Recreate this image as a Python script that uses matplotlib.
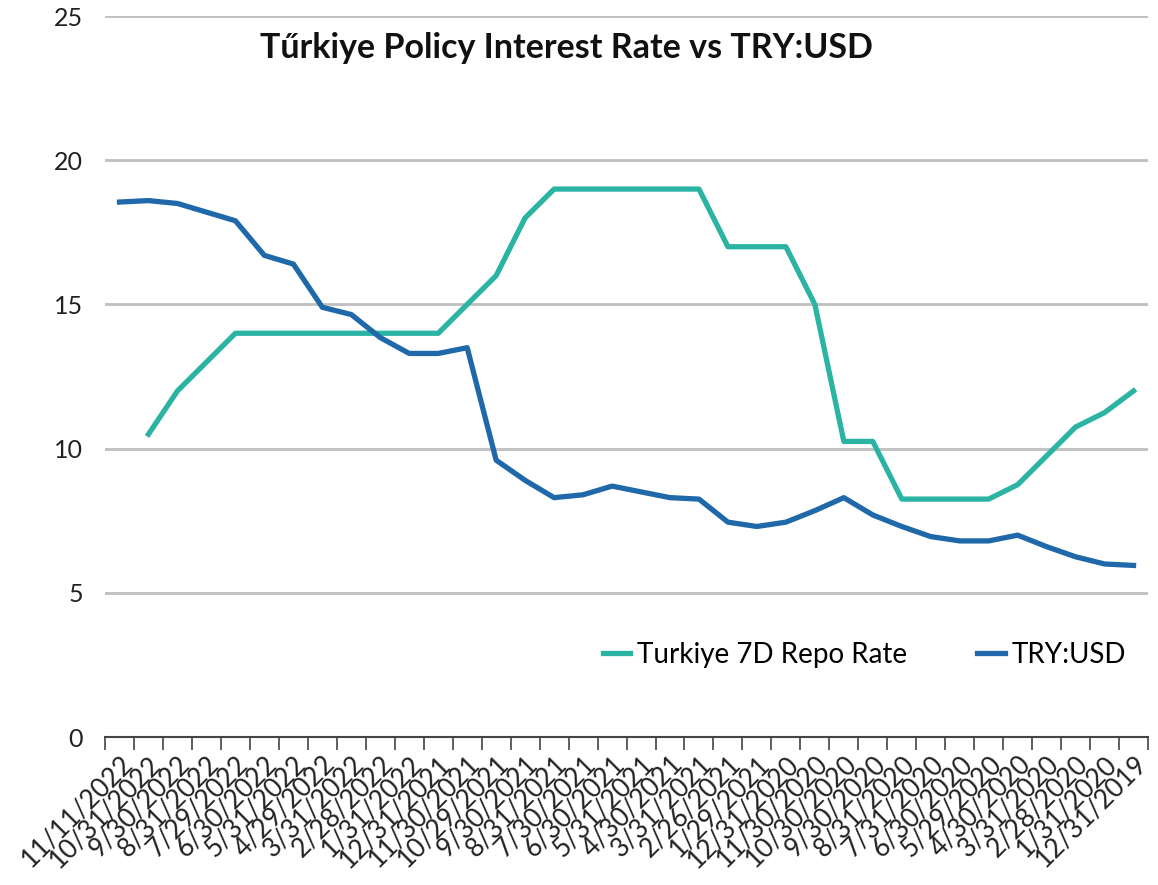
import matplotlib.pyplot as plt
import numpy as np

plt.rcParams['font.family'] = ['Lato', 'DejaVu Sans']

# monthly observations, newest first (as in the source sheet)
dates = ['11/11/2022', '10/31/2022', '9/30/2022', '8/31/2022', '7/29/2022', '6/30/2022',
         '5/31/2022', '4/29/2022', '3/31/2022', '2/28/2022', '1/31/2022', '12/31/2021',
         '11/30/2021', '10/29/2021', '9/30/2021', '8/31/2021', '7/30/2021', '6/30/2021',
         '5/31/2021', '4/30/2021', '3/31/2021', '2/26/2021', '1/29/2021', '12/31/2020',
         '11/30/2020', '10/30/2020', '9/30/2020', '8/31/2020', '7/31/2020', '6/30/2020',
         '5/29/2020', '4/30/2020', '3/31/2020', '2/28/2020', '1/31/2020', '12/31/2019']

repo_rate = [np.nan, 10.5, 12.0, 13.0, 14.0, 14.0, 14.0, 14.0, 14.0, 14.0, 14.0, 14.0,
             15.0, 16.0, 18.0, 19.0, 19.0, 19.0, 19.0, 19.0, 19.0, 17.0, 17.0, 17.0,
             15.0, 10.25, 10.25, 8.25, 8.25, 8.25, 8.25, 8.75, 9.75, 10.75, 11.25, 12.0]

try_usd = [18.55, 18.6, 18.5, 18.2, 17.9, 16.7, 16.4, 14.9, 14.65, 13.85, 13.3, 13.3,
           13.5, 9.6, 8.9, 8.3, 8.4, 8.7, 8.5, 8.3, 8.25, 7.45, 7.3, 7.45,
           7.85, 8.3, 7.7, 7.3, 6.95, 6.8, 6.8, 7.0, 6.6, 6.25, 6.0, 5.95]

teal = '#2bb3a3'
blue = '#1f68aa'

fig = plt.figure(figsize=(11.58, 8.85), dpi=100)
ax = fig.add_axes([0.0907, 0.1672, 0.9007, 0.8147])

x = np.arange(len(dates))
ax.plot(x, repo_rate, color=teal, linewidth=3.8, label='Turkiye 7D Repo Rate', solid_joinstyle='round')
ax.plot(x, try_usd, color=blue, linewidth=3.8, label='TRY:USD', solid_joinstyle='round')

ax.set_xlim(-0.5, len(dates) - 0.5)
ax.set_ylim(0, 25)
ax.set_yticks([0, 5, 10, 15, 20, 25])
ax.yaxis.grid(True, color='#bfbfbf', linewidth=2)
ax.set_axisbelow(True)
ax.tick_params(axis='y', length=0, labelsize=18, pad=16, colors='#222222')

# category axis: ticks sit between the categories
ax.set_xticks(np.arange(-0.5, len(dates)), minor=False)
ax.set_xticklabels([])
ax.set_xticks(x, minor=True)
ax.set_xticklabels(dates, minor=True, rotation=45, ha='right', rotation_mode='anchor', fontsize=19)
ax.tick_params(axis='x', which='major', length=9, width=1.2, color='#444444', direction='out')
ax.tick_params(axis='x', which='minor', length=0, pad=10, colors='#222222')

for s in ['top', 'right', 'left']:
    ax.spines[s].set_visible(False)
ax.spines['bottom'].set_color('#444444')
ax.spines['bottom'].set_linewidth(1.5)

ax.text(0.442, 0.955, 'Tűrkiye Policy Interest Rate vs TRY:USD', transform=ax.transAxes,
        fontsize=24.5, fontweight='bold', ha='center', va='center', color='#111111')

ax.legend(loc='center', bbox_to_anchor=(0.728, 0.114), ncol=2, frameon=False, fontsize=20,
          handlelength=1.0, columnspacing=2.5, handletextpad=0.25)

fig.savefig('out.png', dpi=100)
